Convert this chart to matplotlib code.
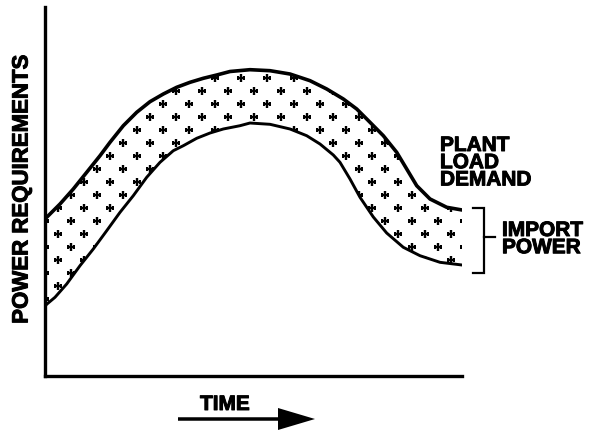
import numpy as np
import matplotlib
matplotlib.use("Agg")
import matplotlib.pyplot as plt
import matplotlib.patheffects as pe
from matplotlib.patches import Polygon, FancyArrow

# Plant load demand (upper curve): time in % of period, power in % of scale
load_time = [0.0, 3.60, 6.79, 10.00, 13.19, 15.59, 18.78, 21.99, 25.18,
             28.37, 31.58, 34.77, 37.96, 41.18, 44.37, 49.16, 53.96, 58.75,
             63.55, 67.55, 71.54, 74.75, 77.15, 81.13, 84.34, 86.74, 89.14,
             92.33, 96.33, 100.0]
load_demand = [42.55, 46.61, 50.68, 55.20, 59.70, 63.33, 67.83, 71.46,
               74.34, 76.42, 78.24, 79.59, 80.68, 81.57, 82.52, 83.01,
               82.74, 81.84, 80.03, 77.78, 75.07, 72.36, 69.65, 65.12,
               60.62, 56.10, 51.57, 47.97, 45.72, 44.99]

# On-site generation (lower curve); the gap up to the demand is imported power
gen_time = [0.0, 0.48, 2.40, 5.20, 8.39, 11.58, 14.80, 17.99, 21.17, 24.39,
            27.58, 30.77, 33.17, 36.38, 39.57, 42.76, 46.76, 49.16, 53.96,
            58.75, 62.76, 65.95, 69.14, 70.74, 73.14, 75.54, 78.73, 81.94,
            85.92, 89.93, 94.72, 100.0]
generation = [18.97, 19.51, 21.33, 24.93, 29.89, 34.42, 39.38, 44.36,
              48.86, 53.85, 57.91, 61.06, 62.41, 64.42, 65.85, 66.94,
              67.83, 68.56, 68.21, 66.94, 65.12, 62.87, 59.89, 57.91,
              53.39, 48.43, 43.09, 38.75, 34.88, 32.60, 30.81, 30.08]

W, H = 590, 435
fig = plt.figure(figsize=(W / 100, H / 100), dpi=100)
fig.patch.set_facecolor("white")

ax = fig.add_axes([45 / W, (H - 377) / H, (462 - 45) / W, (377 - 8) / H])
ax.set_xlim(0, 100)
ax.set_ylim(0, 100)
ax.set_xticks([])
ax.set_yticks([])
for side in ("top", "right"):
    ax.spines[side].set_visible(False)
for side in ("left", "bottom"):
    ax.spines[side].set_linewidth(2.4)
    ax.spines[side].set_capstyle("projecting")
    ax.spines[side].set_color("black")

# Band between the two curves, used to clip the plus-sign stipple
band_xy = np.column_stack([
    np.concatenate([load_time, gen_time[::-1]]),
    np.concatenate([load_demand, generation[::-1]]),
])
band = Polygon(band_xy, closed=True, facecolor="none", edgecolor="none")
ax.add_patch(band)

# Staggered lattice of plus signs
dx, dy = 6.28, 3.52
x0, y0 = 37.65, 77.24
px, py = [], []
for j in range(-10, 30):
    off = dx / 2 if j % 2 else 0.0
    for k in range(-10, 14):
        px.append(x0 + off + k * dx)
        py.append(y0 - j * dy)
stip = ax.scatter(px, py, marker="+", s=30, color="black", linewidths=1.7)
stip.set_clip_path(band)

ax.plot(load_time, load_demand, color="black", lw=2.6,
        solid_capstyle="round", solid_joinstyle="round")
ax.plot(gen_time, generation, color="black", lw=2.1,
        solid_capstyle="round", solid_joinstyle="round")

# Bracket marking the imported power at the end of the period
b_top, b_bot, b_mid = 45.5, 27.9, 37.7
ax.plot([102.6, 105.3, 105.3, 102.6], [b_top, b_top, b_bot, b_bot],
        color="black", lw=1.6, clip_on=False, solid_joinstyle="miter")
ax.plot([105.3, 107.9], [b_mid, b_mid], color="black", lw=1.6, clip_on=False)

heavy = [pe.withStroke(linewidth=0.7, foreground="black")]
font = dict(family=["Liberation Sans", "DejaVu Sans"], weight="bold",
            color="black", path_effects=heavy)

ax.text(-0.055, 0.507, "POWER REQUIREMENTS", transform=ax.transAxes,
        rotation=90, ha="center", va="center", fontsize=16, **font)

fig.text(440 / W, 1 - 137 / H, "PLANT\nLOAD\nDEMAND", ha="left", va="top",
         fontsize=15, linespacing=0.88, **font)
fig.text(502 / W, 1 - 222 / H, "IMPORT\nPOWER", ha="left", va="top",
         fontsize=15, linespacing=0.88, **font)
fig.text(200 / W, 1 - 396 / H, "TIME", ha="left", va="top",
         fontsize=15, **font)

arrow = FancyArrow(178 / W, (H - 420) / H, (315 - 178) / W, 0,
                   width=3.5 / H, head_width=22 / H, head_length=37 / W,
                   length_includes_head=True, transform=fig.transFigure,
                   color="black", lw=0)
fig.patches.append(arrow)

fig.savefig("out.png", dpi=100, facecolor="white")
